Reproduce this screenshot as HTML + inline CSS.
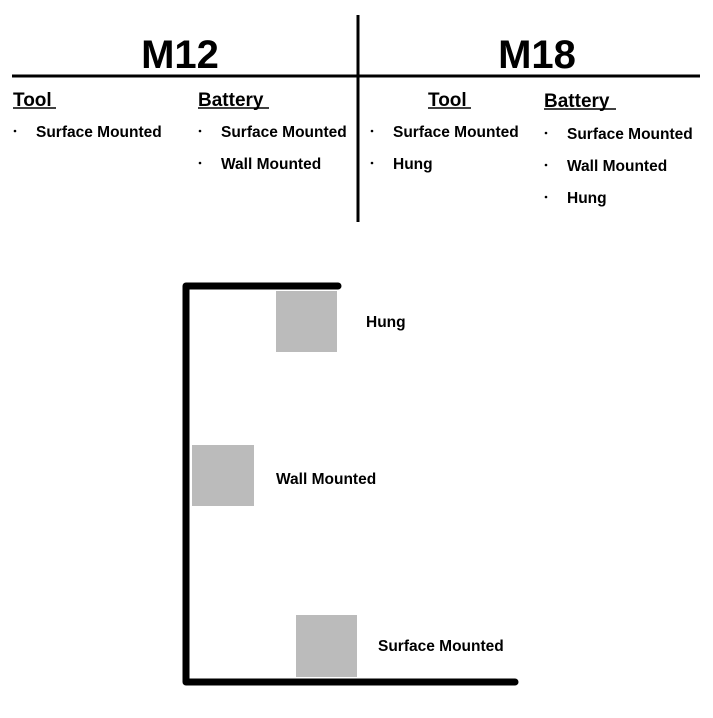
<!DOCTYPE html>
<html><head><style>
body{margin:0;background:#fff;}
svg text{font-family:"Liberation Sans",Arial,sans-serif;font-weight:bold;fill:#000;}
</style></head><body>
<svg width="713" height="713" viewBox="0 0 713 713" xmlns="http://www.w3.org/2000/svg">
<rect width="713" height="713" fill="#fff"/>
<line x1="12" y1="76" x2="700" y2="76" stroke="#000" stroke-width="3"/>
<line x1="358" y1="15" x2="358" y2="222" stroke="#000" stroke-width="3"/>
<text x="180" y="68" font-size="40" text-anchor="middle">M12</text>
<text x="537" y="68" font-size="40" text-anchor="middle">M18</text>
<g font-size="19">
<text x="13" y="106">Tool</text>
<text x="198" y="106">Battery</text>
<text x="428" y="106">Tool</text>
<text x="544" y="107">Battery</text>
</g>
<line x1="13" y1="108" x2="56" y2="108" stroke="#000" stroke-width="1.5"/>
<line x1="198" y1="108" x2="269" y2="108" stroke="#000" stroke-width="1.5"/>
<line x1="428" y1="108" x2="471" y2="108" stroke="#000" stroke-width="1.5"/>
<line x1="544" y1="109" x2="616" y2="109" stroke="#000" stroke-width="1.5"/>
<g fill="#000">
<circle cx="15" cy="131" r="1.3"/><circle cx="200" cy="131" r="1.3"/><circle cx="200" cy="163" r="1.3"/>
<circle cx="372" cy="131" r="1.3"/><circle cx="372" cy="163" r="1.3"/>
<circle cx="546" cy="133" r="1.3"/><circle cx="546" cy="165" r="1.3"/><circle cx="546" cy="197" r="1.3"/>
</g>
<g font-size="15.5">
<text x="36" y="137">Surface Mounted</text>
<text x="221" y="137">Surface Mounted</text>
<text x="221" y="169">Wall Mounted</text>
<text x="393" y="137">Surface Mounted</text>
<text x="393" y="169">Hung</text>
<text x="567" y="139">Surface Mounted</text>
<text x="567" y="171">Wall Mounted</text>
<text x="567" y="203">Hung</text>
</g>
<path d="M338 286 H186 V682 H515" fill="none" stroke="#000" stroke-width="7" stroke-linecap="round" stroke-linejoin="round"/>
<rect x="276" y="291" width="61" height="61" fill="#bbbbbb"/>
<rect x="192" y="445" width="62" height="61" fill="#bbbbbb"/>
<rect x="296" y="615" width="61" height="62" fill="#bbbbbb"/>
<g font-size="15.5">
<text x="366" y="327">Hung</text>
<text x="276" y="484">Wall Mounted</text>
<text x="378" y="651">Surface Mounted</text>
</g>
</svg>
</body></html>
